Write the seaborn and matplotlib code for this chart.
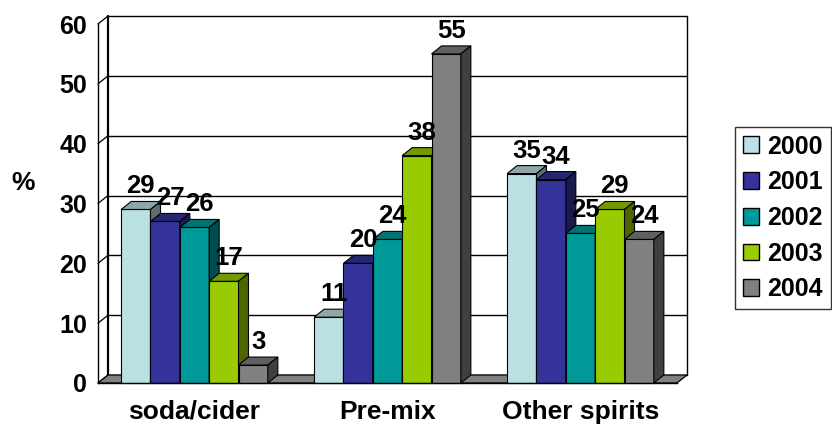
import numpy as np
import pandas as pd
import matplotlib
matplotlib.use("Agg")
import matplotlib.pyplot as plt
from matplotlib.patches import Polygon, Patch
import matplotlib.colors as mcolors
import seaborn as sns

# ---- data -------------------------------------------------------------
categories = ["soda/cider", "Pre-mix", "Other spirits"]
years = ["2000", "2001", "2002", "2003", "2004"]
v2000 = [29, 11, 35]
v2001 = [27, 20, 34]
v2002 = [26, 24, 25]
v2003 = [17, 38, 29]
v2004 = [3, 55, 24]
y_ticks = [0, 10, 20, 30, 40, 50, 60]
y_label = "%"

colors = ["#BBE0E3", "#333399", "#009999", "#99CC00", "#808080"]

rows = []
for yr, vals in zip(years, [v2000, v2001, v2002, v2003, v2004]):
    for cat, v in zip(categories, vals):
        rows.append({"category": cat, "year": yr, "value": v})
df = pd.DataFrame(rows)

# ---- figure -----------------------------------------------------------
sns.set_style("white")
plt.rcParams["font.family"] = ["Liberation Sans", "DejaVu Sans"]
plt.rcParams["font.weight"] = "bold"
plt.rcParams["text.color"] = "black"
plt.rcParams["xtick.color"] = "black"
plt.rcParams["ytick.color"] = "black"
plt.rcParams["xtick.labelcolor"] = "black"
plt.rcParams["ytick.labelcolor"] = "black"

W, H = 832, 424
fig = plt.figure(figsize=(W / 100, H / 100), dpi=100)
ax = fig.add_axes([98 / W, (H - 383) / H, 579 / W, 359 / H])

sns.barplot(data=df, x="category", y="value", hue="year", order=categories,
            hue_order=years, palette=colors, width=0.76, saturation=1,
            edgecolor="black", linewidth=0.8, legend=False, ax=ax)

ax.set_xlim(-0.5, 2.5)
ax.set_ylim(0, 60)

# depth offset of the pseudo-3D box, expressed in data units
px_x = 3.0 / 579
px_y = 60.0 / 359
ddx = 10 * px_x
ddy = 8 * px_y

x0, x1 = -0.5, 2.5
# back wall gridlines and left-wall diagonals
for g in y_ticks:
    ax.plot([x0 + ddx, x1 + ddx], [g + ddy, g + ddy], color="black", lw=1.0,
            zorder=0.5, clip_on=False)
    ax.plot([x0, x0 + ddx], [g, g + ddy], color="black", lw=0.9,
            zorder=0.5, clip_on=False)
ax.plot([x0 + ddx, x0 + ddx], [ddy, 60 + ddy], color="black", lw=1.6,
        zorder=0.5, clip_on=False)
ax.plot([x1 + ddx, x1 + ddx], [ddy, 60 + ddy], color="black", lw=1.0,
        zorder=0.5, clip_on=False)

# floor
floor = Polygon([(x0, 0), (x1, 0), (x1 + ddx, ddy), (x0 + ddx, ddy)],
                closed=True, facecolor="#808080", edgecolor="black", lw=0.9,
                zorder=0.8, clip_on=False)
ax.add_patch(floor)

# bars: add top and side faces, ordered left to right
bars = sorted([p for p in ax.patches if p is not floor], key=lambda p: p.get_x())
for k, p in enumerate(bars):
    l = p.get_x()
    r = l + p.get_width()
    h = p.get_height()
    base = np.array(mcolors.to_rgb(p.get_facecolor()))
    z = 10 + 3 * k
    p.set_zorder(z)
    p.set_clip_on(False)
    top = Polygon([(l, h), (r, h), (r + ddx, h + ddy), (l + ddx, h + ddy)],
                  closed=True, facecolor=base * 0.75, edgecolor="black",
                  lw=0.8, zorder=z + 1, clip_on=False)
    side = Polygon([(r, 0), (r + ddx, ddy), (r + ddx, h + ddy), (r, h)],
                   closed=True, facecolor=base * 0.5, edgecolor="black",
                   lw=0.8, zorder=z + 1, clip_on=False)
    ax.add_patch(top)
    ax.add_patch(side)
    ax.text((l + r) / 2 + ddx / 2, h + ddy + 3 * px_y, f"{h:g}",
            ha="center", va="bottom", fontsize=18.5, fontweight="bold",
            color="black", zorder=200, clip_on=False)

# axes styling
for s in ["top", "right"]:
    ax.spines[s].set_visible(False)
for s in ["left", "bottom"]:
    ax.spines[s].set_color("black")
    ax.spines[s].set_linewidth(1.0)
    ax.spines[s].set_zorder(150)

ax.set_yticks(y_ticks)
ax.set_yticklabels([str(t) for t in y_ticks])
ax.tick_params(axis="y", direction="out", length=5, width=0.9, pad=3,
               labelsize=18, colors="black")
ax.set_xticks(range(len(categories)))
ax.set_xticklabels(categories)
ax.set_xticks([-0.5, 0.5, 1.5, 2.5], minor=True)
ax.tick_params(axis="x", which="major", length=0, pad=12, labelsize=19,
               colors="black")
ax.tick_params(axis="x", which="minor", direction="out", length=6, width=0.9,
               colors="black")
for t in ax.get_xticklabels() + ax.get_yticklabels():
    t.set_fontweight("bold")
    t.set_color("black")
ax.set_xlabel("")
ax.set_ylabel("")
ax.patch.set_alpha(0)

fig.text(23 / W, 1 - 183 / H, y_label, ha="center", va="center",
         fontsize=19, fontweight="bold", color="black")

handles = [Patch(facecolor=c, edgecolor="black", lw=1.0) for c in colors]
leg = fig.legend(handles, years, loc="upper left",
                 bbox_to_anchor=(735 / W, 1 - 127 / H), frameon=True,
                 fancybox=False, shadow=False,
                 prop={"weight": "bold", "size": 18},
                 handlelength=0.65, handleheight=0.65, handletextpad=0.35,
                 labelspacing=0.47, borderpad=0.3, borderaxespad=0)
leg.get_frame().set_edgecolor("black")
leg.get_frame().set_linewidth(1.0)
for t in leg.get_texts():
    t.set_color("black")

fig.savefig("out.png", dpi=100)
